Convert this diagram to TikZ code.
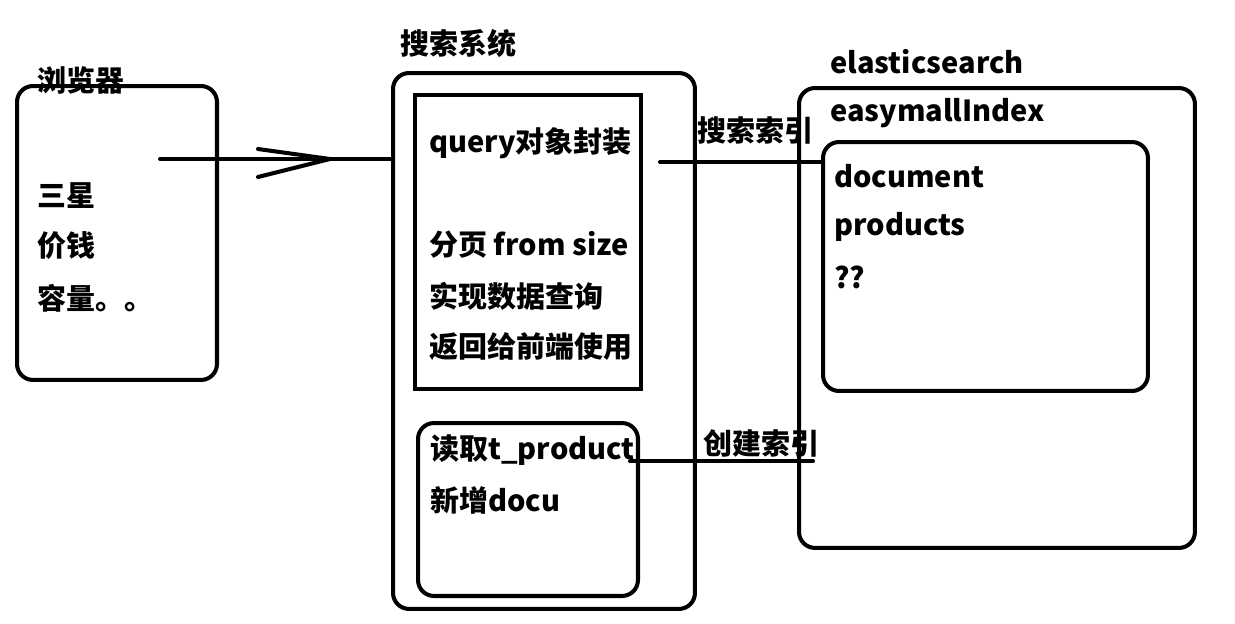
\documentclass[tikz,border=0pt]{standalone}
\usepackage{fontspec}
\setmainfont{Noto Sans CJK SC}
\usetikzlibrary{positioning}
\tikzset{
  box/.style={draw, line width=2.3pt, rounded corners=0.32cm, anchor=north west, inner sep=0},
  sharpbox/.style={draw, line width=2.3pt, anchor=north west, inner sep=0},
  txt/.style={anchor=west, inner sep=0, font=\fontsize{16.5}{19}\selectfont\bfseries},
  link/.style={line width=2.3pt, line cap=round}
}
\begin{document}
\begin{tikzpicture}[x=0.02cm, y=-0.02cm]
        \useasboundingbox (0,0) rectangle (1235,623);

        % browser
        \node[box, minimum width=4cm, minimum height=5.88cm] (browser) at (15,84) {};
        \node[txt] (browsertitle) at (37,80) {浏览器};
        \node[txt] (sx) at (37,196) {三星};
        \node[txt] (price) at (37,246) {价钱};
        \node[txt] (cap) at (37,298) {容量。。};

        % search system
        \node[box, minimum width=6.04cm, minimum height=10.72cm] (search) at (391,71) {};
        \node[txt] (searchtitle) at (400,43) {搜索系统};
        \node[sharpbox, minimum width=4.52cm, minimum height=5.88cm] (query) at (413,93) {};
        \node[txt] (q1) at (429,143) {query对象封装};
        \node[txt] (q2) at (429,245) {分页 from size};
        \node[txt] (q3) at (429,296) {实现数据查询};
        \node[txt] (q4) at (429,347) {返回给前端使用};
        \node[box, minimum width=4.4cm, minimum height=3.46cm] (reader) at (416,421) {};
        \node[txt] (r1) at (430,450) {读取t\_product};
        \node[txt] (r2) at (430,500) {新增docu};

        % elasticsearch
        \node[box, minimum width=7.92cm, minimum height=9.2cm] (es) at (797,86) {};
        \node[txt] (estitle) at (830,62) {elasticsearch};
        \node[txt] (idx) at (830,113) {easymallIndex};
        \node[box, minimum width=6.5cm, minimum height=4.98cm] (doc) at (821,140) {};
        \node[txt] (d1) at (834,176) {document};
        \node[txt] (d2) at (834,227) {products};
        \node[txt] (d3) at (834,277) {??};

        % connectors
        \coordinate (start) at (160,159);
        \coordinate (tip) at (330,159);
        \draw[link] (start) -- (search.west |- start);
        \draw[link] (tip) -- ++(-72,-10);
        \draw[link] (tip) -- ++(-72,18);

        \coordinate (qline) at (660,162);
        \draw[link] (qline) -- (doc.west |- qline);
        \node[txt] (searchidx) at (697,130) {搜索索引};

        \coordinate (cline) at (630,461);
        \coordinate (cend) at (813,461);
        \draw[link] (cline) -- (cend);
        \node[txt] (createidx) at (703,443) {创建索引};
\end{tikzpicture}
\end{document}
